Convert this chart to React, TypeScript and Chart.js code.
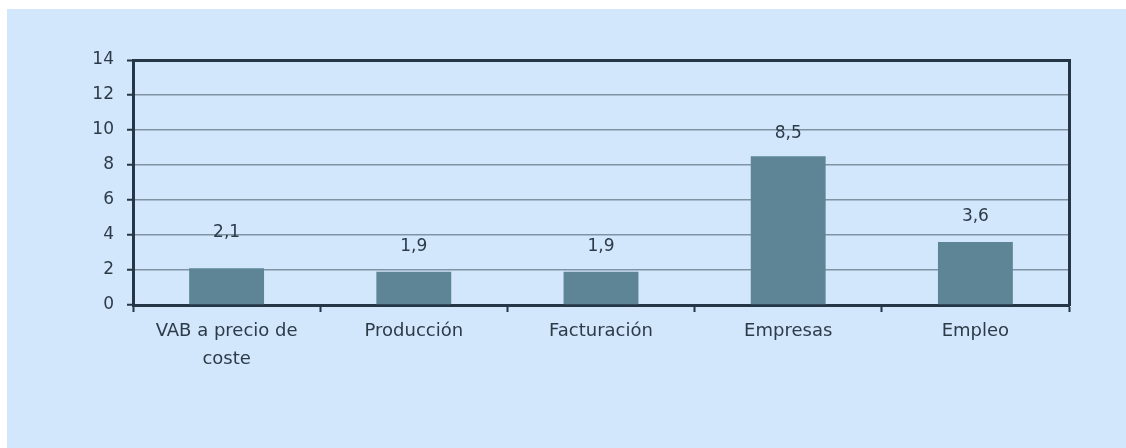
import React, { useEffect, useRef } from "react";
import { Chart, registerables } from "chart.js";

Chart.register(...registerables);

const categories: (string | string[])[] = [
  ["VAB a precio de", "coste"],
  "Producción",
  "Facturación",
  "Empresas",
  "Empleo",
];
const values: number[] = [2.1, 1.9, 1.9, 8.5, 3.6];
const yMin = 0;
const yMax = 14;
const yStep = 2;

const FONT = "'DejaVu Sans', sans-serif";
const TEXT = "#2c3b48";
const DARK = "#253746";
const GRID = "#7f93a3";
const BAR = "#5e8596";
const BG = "#d2e6fc";
const labelLift = [36, 25, 25, 23, 25];

const W = 1126;
const H = 448;

const dataLabels = {
  id: "dataLabels",
  afterDatasetsDraw(chart: any) {
    const ctx = chart.ctx;
    const meta = chart.getDatasetMeta(0);
    ctx.save();
    ctx.font = `17px ${FONT}`;
    ctx.fillStyle = TEXT;
    ctx.textAlign = "center";
    ctx.textBaseline = "middle";
    meta.data.forEach((bar: any, i: number) => {
      const v = values[i];
      ctx.fillText(v.toFixed(1).replace(".", ","), bar.x, bar.y - labelLift[i]);
    });
    ctx.restore();
  },
};

export default function App() {
  const ref = useRef<HTMLCanvasElement | null>(null);
  useEffect(() => {
    document.body.style.margin = "0";
    const chart = new Chart(ref.current!, {
      type: "bar",
      data: {
        labels: categories,
        datasets: [
          {
            data: values,
            backgroundColor: BAR,
            borderWidth: 0,
            barPercentage: 0.4,
            categoryPercentage: 1,
          },
        ],
      },
      options: {
        animation: false,
        responsive: false,
        maintainAspectRatio: false,
        layout: { padding: { left: 0, top: 60, right: 57, bottom: 83 } },
        plugins: { legend: { display: false }, tooltip: { enabled: false } },
        scales: {
          x: {
            offset: true,
            ticks: {
              color: TEXT,
              font: { family: FONT, size: 18, lineHeight: 1.55 },
              padding: 5,
              maxRotation: 0,
              autoSkip: false,
            },
            grid: {
              offset: true,
              drawOnChartArea: false,
              drawTicks: true,
              tickLength: 7,
              tickColor: DARK,
              tickWidth: 2,
            },
            border: { color: DARK, width: 3 },
            afterFit: (s: any) => {
              s.height = 60;
            },
          },
          y: {
            min: yMin,
            max: yMax,
            ticks: { stepSize: yStep, color: TEXT, font: { family: FONT, size: 17 }, padding: 13 },
            grid: {
              color: (c: any) => (c.tick && c.tick.value === yMax ? DARK : GRID),
              lineWidth: (c: any) => (c.tick && c.tick.value === yMax ? 3 : 1.5),
              tickLength: 6,
              tickColor: DARK,
              tickWidth: 2,
            },
            border: { color: DARK, width: 3 },
            afterFit: (s: any) => {
              s.width = 133;
            },
          },
          yRight: {
            position: "right",
            min: yMin,
            max: yMax,
            ticks: { display: false },
            grid: { drawOnChartArea: false, drawTicks: false },
            border: { color: DARK, width: 3 },
            afterFit: (s: any) => {
              s.width = 0;
            },
          },
        },
      },
      plugins: [dataLabels],
    });
    return () => chart.destroy();
  }, []);
  return (
    <div style={{ position: "relative", width: W, height: H, background: "#ffffff", overflow: "hidden" }}>
      <div style={{ position: "absolute", left: 7, top: 9, right: 0, bottom: 0, background: BG }} />
      <canvas ref={ref} width={W} height={H} style={{ position: "absolute", left: 0, top: 0, width: W, height: H }} />
    </div>
  );
}
